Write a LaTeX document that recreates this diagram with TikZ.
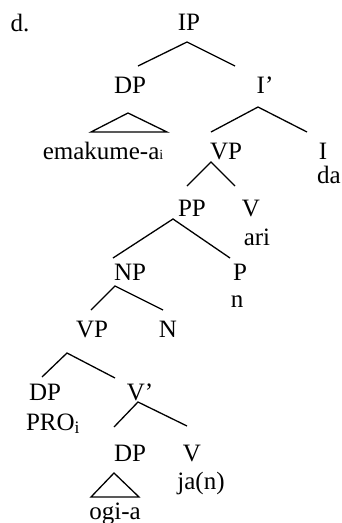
\documentclass[tikz,border=0pt]{standalone}
\usepackage{fontspec}
\setmainfont{Liberation Serif}
\usepackage{tikz}
\usetikzlibrary{positioning}

\tikzset{
  cat/.style={inner sep=0pt, anchor=base, font=\fontsize{25}{29}\selectfont},
  branch/.style={line width=1.3pt},
}

\begin{document}
\begin{tikzpicture}[x=1pt,y=-1pt]
  \useasboundingbox (0,0) rectangle (342,523);

  % Labels, placed on their baselines
  \node[cat] (ex)    at (20,31)   {d.};
  \node[cat] (ip)    at (189,30)  {IP};
  \node[cat] (dpa)   at (130,93)  {DP};
  \node[cat] (ibar)  at (265,93)  {I’};
  \node[cat] (emak)  at (103,159) {emakume-a{\fontsize{14}{14}\selectfont i}};
  \node[cat] (vpa)   at (226,159) {VP};
  \node[cat] (infl)  at (323,159) {I};
  \node[cat] (da)    at (329,183) {da};
  \node[cat] (pp)    at (192,216) {PP};
  \node[cat] (va)    at (251,216) {V};
  \node[cat] (ari)   at (257,245) {ari};
  \node[cat] (np)    at (130,280) {NP};
  \node[cat] (prep)  at (240,280) {P};
  \node[cat] (pn)    at (237,307) {n};
  \node[cat] (vpb)   at (92,337)  {VP};
  \node[cat] (noun)  at (168,337) {N};
  \node[cat] (dpb)   at (45,400)  {DP};
  \node[cat] (vbar)  at (140,400) {V’};
  \node[cat] (pro)   at (53,430)  {PRO\textsubscript{i}};
  \node[cat] (dpc)   at (130,461) {DP};
  \node[cat] (vb)    at (192,461) {V};
  \node[cat] (jan)   at (201,489) {ja(n)};
  \node[cat] (ogia)  at (115,519) {ogi-a};

  % Branches
  \draw[branch] ([shift={(8,-27)}]dpa.base) -- ([shift={(-2,12)}]ip.base)
                -- ([shift={(-30,-27)}]ibar.base);
  \draw[branch] ([shift={(-15,-27)}]vpa.base) -- ([shift={(-7,14)}]ibar.base)
                -- ([shift={(-16,-27)}]infl.base);
  \draw[branch] ([shift={(-5,-30)}]pp.base) -- ([shift={(-15,3)}]vpa.base)
                -- ([shift={(-16,-30)}]va.base);
  \draw[branch] ([shift={(-17,-22)}]np.base) -- ([shift={(-19,3)}]pp.base)
                -- ([shift={(-10,-22)}]prep.base);
  \draw[branch] ([shift={(-1,-27)}]vpb.base) -- ([shift={(-15,6)}]np.base)
                -- ([shift={(-5,-27)}]noun.base);
  \draw[branch] ([shift={(-3,-23)}]dpb.base) -- ([shift={(-25,16)}]vpb.base)
                -- ([shift={(-25,-22)}]vbar.base);
  \draw[branch] ([shift={(-16,-34)}]dpc.base) -- ([shift={(-2,2)}]vbar.base)
                -- ([shift={(-5,-35)}]vb.base);

  % Triangles over the phrases
  \draw[branch] ([shift={(-2,20)}]dpa.base) -- ([shift={(-12,-27)}]emak.base)
                -- ([shift={(64,-27)}]emak.base) -- cycle;
  \draw[branch] ([shift={(-16,12)}]dpc.base) -- ([shift={(-24,-22)}]ogia.base)
                -- ([shift={(24,-22)}]ogia.base) -- cycle;
\end{tikzpicture}
\end{document}
